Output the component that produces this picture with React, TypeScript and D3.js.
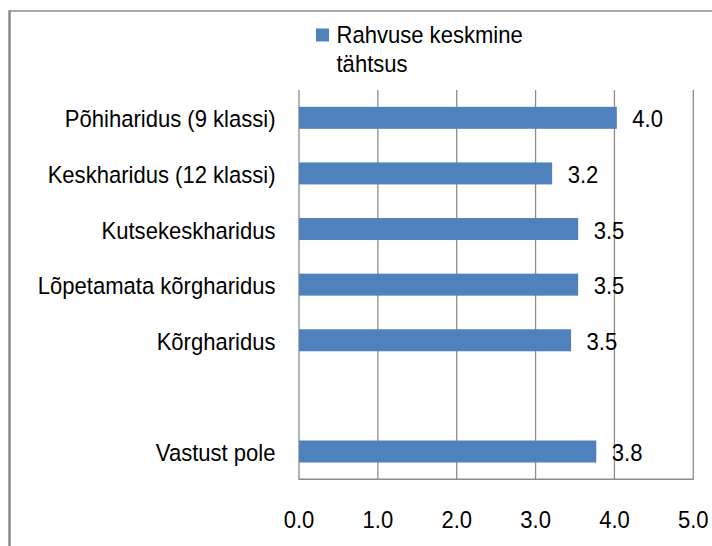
import React from "react";
import * as d3 from "d3";

const categories = [
  "Põhiharidus (9 klassi)",
  "Keskharidus (12 klassi)",
  "Kutsekeskharidus",
  "Lõpetamata kõrgharidus",
  "Kõrgharidus",
  "",
  "Vastust pole",
];
const values: (number | null)[] = [4.03, 3.21, 3.54, 3.54, 3.45, null, 3.77];
const labels = ["4.0", "3.2", "3.5", "3.5", "3.5", "", "3.8"];
const xTicks = [0, 1, 2, 3, 4, 5];
const legendLines = ["Rahvuse keskmine", "tähtsus"];

const W = 712;
const H = 546;
const FONT = "'Liberation Sans', Arial, sans-serif";
const FS = 24.5;
const SX = 0.9;

function T({ x, y, anchor, children }: { x: number; y: number; anchor?: string; children: React.ReactNode }) {
  return (
    <text
      transform={`translate(${x},${y}) scale(${SX},1)`}
      fontSize={FS}
      textAnchor={anchor || "start"}
      fill="#000"
    >
      {children}
    </text>
  );
}

export default function App() {
  const x = d3.scaleLinear().domain([0, 5]).range([299, 693.3]);
  const slot = d3.scaleBand<number>().domain(d3.range(categories.length)).range([90, 479.3]);
  const bh = 22;
  return (
    <svg
      width={W}
      height={H}
      style={{ position: "absolute", left: 0, top: 0, background: "#fff" }}
      fontFamily={FONT}
    >
      <line x1={9.5} x2={W} y1={11} y2={11} stroke="#8c8c8c" strokeWidth={1.5} />
      <line x1={9.5} x2={9.5} y1={10.25} y2={H} stroke="#8c8c8c" strokeWidth={2.5} />
      {/* legend */}
      <rect x={316} y={28.5} width={13} height={13} fill="#4F81BD" />
      {legendLines.map((t, i) => (
        <T key={i} x={336.5} y={42.5 + i * 29}>
          {t}
        </T>
      ))}
      {/* gridlines */}
      {xTicks.map((t) => (
        <line key={t} x1={x(t)} x2={x(t)} y1={90} y2={479.3} stroke="#8c8c8c" strokeWidth={1.3} />
      ))}
      <line x1={x(0) - 0.6} x2={x(5) + 0.6} y1={479.3} y2={479.3} stroke="#8c8c8c" strokeWidth={1.5} />
      {/* bars */}
      {values.map((v, i) => {
        if (v == null) return null;
        const cy = (slot(i) as number) + slot.bandwidth() / 2;
        return (
          <g key={i}>
            <rect x={x(0)} y={cy - bh / 2} width={x(v) - x(0)} height={bh} fill="#4F81BD" />
            <T x={x(v) + 15.5} y={cy + 9.5}>
              {labels[i]}
            </T>
          </g>
        );
      })}
      {/* category labels */}
      {categories.map((c, i) => {
        const cy = (slot(i) as number) + slot.bandwidth() / 2;
        return (
          <T key={i} x={275.5} y={cy + 9.5} anchor="end">
            {c}
          </T>
        );
      })}
      {/* x tick labels */}
      {xTicks.map((t) => (
        <T key={t} x={x(t)} y={528} anchor="middle">
          {t.toFixed(1)}
        </T>
      ))}
    </svg>
  );
}
